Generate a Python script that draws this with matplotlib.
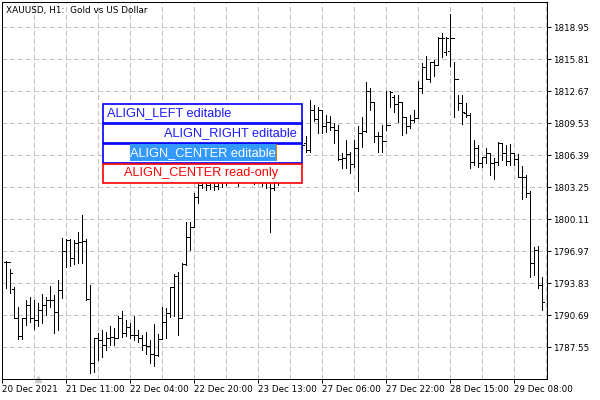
import matplotlib
matplotlib.use('Agg')
import matplotlib.pyplot as plt
from matplotlib.patches import Rectangle
import numpy as np

plt.rcParams.update({'font.family': 'DejaVu Sans'})
plt.rcParams.update({'lines.scale_dashes': False})

# H1 XAUUSD bars
high = [1796.02, 1795.23, 1793.47, 1791.50, 1790.42, 1792.19, 1792.49, 1792.19, 1791.90, 1792.78,
        1792.49, 1793.56, 1792.68, 1794.15, 1798.27, 1798.18, 1798.18, 1798.08, 1798.86, 1800.53,
        1798.18, 1793.66, 1788.46, 1788.95, 1789.25, 1789.05, 1789.64, 1789.44, 1790.62, 1791.11,
        1790.23, 1789.93, 1790.62, 1789.25, 1788.76, 1789.05, 1788.27, 1789.84, 1788.85, 1791.50,
        1791.41, 1793.47, 1794.74, 1794.94, 1795.82, 1799.85, 1799.85, 1802.69, 1804.95, 1805.14,
        1804.75, 1805.14, 1804.95, 1804.75, 1805.14, 1805.44, 1805.93, 1805.73, 1805.44, 1805.93,
        1806.13, 1805.73, 1805.44, 1805.93, 1805.73, 1804.95, 1805.44, 1804.75, 1805.44, 1806.13,
        1806.91, 1807.40, 1808.09, 1808.87, 1809.85, 1808.28, 1811.82, 1811.33, 1811.13, 1810.74,
        1810.35, 1810.25, 1809.56, 1809.36, 1806.62, 1807.89, 1806.71, 1807.89, 1809.27, 1810.15,
        1813.58, 1812.99, 1811.62, 1808.68, 1809.36, 1812.70, 1812.70, 1812.31, 1812.31, 1811.62,
        1810.15, 1810.35, 1810.84, 1813.68, 1815.45, 1816.13, 1815.55, 1815.74, 1818.00, 1818.39,
        1818.00, 1820.26, 1815.55, 1812.31, 1812.31, 1811.52, 1810.54, 1807.89, 1807.40, 1806.22,
        1807.11, 1806.52, 1806.13, 1807.70, 1807.60, 1807.40, 1807.50, 1806.62, 1806.52, 1805.34,
        1804.46, 1802.89, 1797.39, 1797.49, 1794.45]
low = [1793.37, 1792.88, 1790.42, 1788.36, 1788.36, 1789.74, 1790.03, 1789.35, 1789.64, 1789.93,
       1790.72, 1791.50, 1788.95, 1789.25, 1792.39, 1795.43, 1795.53, 1795.72, 1795.82, 1795.82,
       1792.19, 1785.03, 1785.13, 1786.30, 1786.60, 1787.28, 1787.78, 1787.78, 1788.46, 1788.56,
       1788.66, 1788.46, 1788.27, 1788.07, 1787.28, 1786.89, 1786.01, 1785.71, 1786.70, 1788.46,
       1788.46, 1790.52, 1790.62, 1788.76, 1790.42, 1795.63, 1797.10, 1799.35, 1801.71, 1803.18,
       1802.99, 1803.08, 1802.99, 1803.08, 1803.28, 1803.48, 1803.97, 1803.77, 1803.38, 1804.16,
       1804.36, 1803.77, 1803.57, 1804.16, 1803.38, 1803.18, 1798.86, 1802.99, 1803.48, 1804.16,
       1804.75, 1805.44, 1805.93, 1806.42, 1807.11, 1806.71, 1806.71, 1809.76, 1808.58, 1808.58,
       1808.68, 1808.87, 1807.60, 1805.93, 1805.14, 1805.14, 1804.65, 1805.24, 1802.89, 1807.20,
       1808.68, 1810.84, 1807.70, 1806.71, 1806.71, 1808.87, 1811.13, 1810.64, 1809.66, 1808.38,
       1808.58, 1809.07, 1809.66, 1810.15, 1812.50, 1813.88, 1813.58, 1814.17, 1815.25, 1816.04,
       1816.23, 1815.15, 1810.15, 1810.84, 1809.46, 1810.15, 1805.14, 1805.44, 1805.24, 1805.24,
       1805.63, 1804.46, 1804.06, 1805.44, 1805.93, 1805.44, 1805.44, 1805.44, 1804.26, 1802.10,
       1802.30, 1794.45, 1794.64, 1793.37, 1791.21]
opn = [1795.92, 1795.92, 1793.27, 1790.42, 1788.66, 1790.42, 1791.70, 1790.42, 1790.23, 1791.21,
       1791.70, 1792.19, 1792.19, 1791.01, 1793.17, 1797.00, 1798.08, 1796.31, 1797.78, 1797.88,
       1797.98, 1792.29, 1786.01, 1788.46, 1788.27, 1787.78, 1788.46, 1788.56, 1788.46, 1790.42,
       1788.95, 1789.54, 1788.76, 1788.76, 1788.46, 1787.78, 1787.68, 1786.89, 1786.79, 1788.36,
       1790.03, 1790.91, 1793.47, 1794.55, 1790.42, 1795.72, 1798.37, 1799.35, 1802.30, 1803.48,
       1804.16, 1803.48, 1803.97, 1803.38, 1803.77, 1804.46, 1804.95, 1805.14, 1804.46, 1804.75,
       1805.44, 1804.95, 1804.36, 1804.95, 1805.14, 1803.97, 1804.46, 1803.18, 1803.97, 1804.95,
       1805.44, 1806.13, 1806.91, 1807.40, 1808.38, 1807.60, 1806.91, 1810.84, 1809.95, 1810.84,
       1809.27, 1809.66, 1809.17, 1808.87, 1806.03, 1806.13, 1806.52, 1805.54, 1807.11, 1808.58,
       1808.77, 1812.70, 1811.62, 1808.28, 1808.28, 1807.79, 1809.36, 1812.11, 1811.42, 1811.62,
       1810.15, 1809.27, 1809.85, 1810.05, 1812.99, 1815.06, 1813.88, 1815.55, 1815.25, 1817.90,
       1816.53, 1816.63, 1817.90, 1813.88, 1811.52, 1810.54, 1810.35, 1805.73, 1807.11, 1805.63,
       1806.22, 1806.62, 1805.63, 1805.73, 1807.60, 1806.62, 1805.83, 1806.62, 1806.03, 1804.26,
       1804.26, 1802.69, 1795.82, 1797.10, 1793.66]
close = [1795.92, 1794.84, 1790.42, 1788.66, 1790.42, 1791.70, 1790.42, 1790.23, 1791.21, 1791.70,
         1792.19, 1792.19, 1791.01, 1793.17, 1797.00, 1798.08, 1796.31, 1797.78, 1797.88, 1797.98,
         1792.29, 1786.01, 1788.46, 1788.27, 1787.78, 1788.46, 1788.56, 1788.46, 1790.42, 1788.95,
         1789.54, 1788.76, 1788.76, 1788.46, 1787.78, 1787.68, 1786.89, 1786.79, 1788.36, 1790.03,
         1790.91, 1793.47, 1794.55, 1790.42, 1795.72, 1798.37, 1799.35, 1802.30, 1803.48, 1804.16,
         1803.48, 1803.97, 1803.38, 1803.77, 1804.46, 1804.95, 1805.14, 1804.46, 1804.75, 1805.44,
         1804.95, 1804.36, 1804.95, 1805.14, 1803.97, 1804.46, 1803.18, 1803.97, 1804.95, 1805.44,
         1806.13, 1806.91, 1807.40, 1808.38, 1807.40, 1806.91, 1810.84, 1809.95, 1810.84, 1809.27,
         1809.66, 1809.17, 1808.87, 1806.03, 1806.13, 1806.52, 1805.54, 1807.11, 1808.58, 1808.77,
         1812.70, 1811.62, 1808.28, 1808.28, 1807.79, 1809.36, 1812.60, 1811.42, 1811.62, 1810.15,
         1809.27, 1809.85, 1810.05, 1812.99, 1815.06, 1813.88, 1815.55, 1815.25, 1817.90, 1817.90,
         1817.90, 1817.90, 1813.88, 1811.52, 1810.64, 1810.35, 1805.73, 1807.11, 1805.63, 1806.22,
         1806.62, 1805.63, 1805.73, 1807.60, 1806.62, 1805.83, 1806.62, 1806.03, 1804.26, 1804.26,
         1802.69, 1795.82, 1797.10, 1793.66, 1791.99]

price_ticks = [1818.95, 1815.81, 1812.67, 1809.53, 1806.39, 1803.25, 1800.11,
               1796.97, 1793.83, 1790.69, 1787.55]
time_pos = [-1, 15, 31, 47, 63, 79, 95, 111, 127]
time_labels = ['20 Dec 2021', '21 Dec 11:00', '22 Dec 04:00', '22 Dec 20:00', '23 Dec 13:00',
               '27 Dec 06:00', '27 Dec 22:00', '28 Dec 15:00', '29 Dec 08:00']

W, H = 600, 400
fig = plt.figure(figsize=(6, 4), dpi=100)
ax = fig.add_axes([2/W, 21/H, 545/W, 377/H])
ax.set_xlim(-1, 135.25)
ax.set_ylim(1784.44, 1821.43)

xx = np.arange(len(high))
lw = 0.72   # one pixel at 100 dpi
ax.vlines(xx, low, high, colors='black', lw=lw, zorder=3, antialiased=False)
ax.hlines(opn, xx - 0.4, xx, colors='black', lw=lw, zorder=3, antialiased=False)
ax.hlines(close, xx, xx + 0.4, colors='black', lw=lw, zorder=3, antialiased=False)

# grid
gcol = '#c0c0c0'
for p in price_ticks:
    ax.axhline(p, color=gcol, lw=lw, dashes=(2.9, 2.2), zorder=1, antialiased=False)
for g in np.arange(7, 136, 8):
    ax.axvline(g, color=gcol, lw=lw, dashes=(2.9, 2.2), zorder=1, antialiased=False)

ax.yaxis.tick_right()
ax.set_yticks(price_ticks)
ax.set_yticklabels(['%.2f' % p for p in price_ticks])
ax.set_xticks(time_pos)
ax.set_xticklabels(time_labels, ha='left')
ax.tick_params(axis='both', length=3, width=lw, labelsize=6.3, pad=1.5, colors='black')
for s in ax.spines.values():
    s.set_linewidth(lw)
    s.set_antialiased(False)

# small marker on the time axis
ax.plot([8], [1784.44], marker='^', color='#c8c8c8', ms=5, clip_on=False, zorder=2)

fig.text(6/W, 1 - 10/H, 'XAUUSD, H1:  Gold vs US Dollar', fontsize=6.4, va='center', ha='left')

# edit boxes
boxes = ['ALIGN_LEFT editable', 'ALIGN_RIGHT editable', 'ALIGN_CENTER editable', 'ALIGN_CENTER read-only']
bfont = dict(family='Liberation Sans', fontsize=9.2)
x0, x1 = 102.5, 301.5
tops = [103.5, 123.5, 143.5, 163.5]
for k, lab in enumerate(boxes):
    t = tops[k]
    ec = 'red' if k == 3 else '#0000ff'
    fig.patches.append(Rectangle((x0/W, 1 - (t + 19)/H), (x1 - x0)/W, 19/H,
                                 transform=fig.transFigure, facecolor='white',
                                 edgecolor=ec, lw=1.2, zorder=5))
    yc = 1 - (t + 9.5)/H
    if k == 0:
        fig.text(107/W, yc, lab, color='#1a1aff', va='center', ha='left', zorder=6, **bfont)
    elif k == 1:
        fig.text(297/W, yc, lab, color='#1a1aff', va='center', ha='right', zorder=6, **bfont)
    elif k == 2:
        fig.patches.append(Rectangle((130/W, 1 - 161/H), 146/W, 17/H, transform=fig.transFigure,
                                     facecolor='#3399ff', edgecolor='none', zorder=5.5))
        fig.patches.append(Rectangle((276/W, 1 - 161/H), 1.2/W, 17/H, transform=fig.transFigure,
                                     facecolor='#e07a1f', edgecolor='none', zorder=5.6))
        fig.text(203/W, yc, lab, color='white', va='center', ha='center', zorder=6, **bfont)
    else:
        fig.text(201/W, yc, lab, color='red', va='center', ha='center', zorder=6, **bfont)

plt.savefig('out.png', dpi=100)
